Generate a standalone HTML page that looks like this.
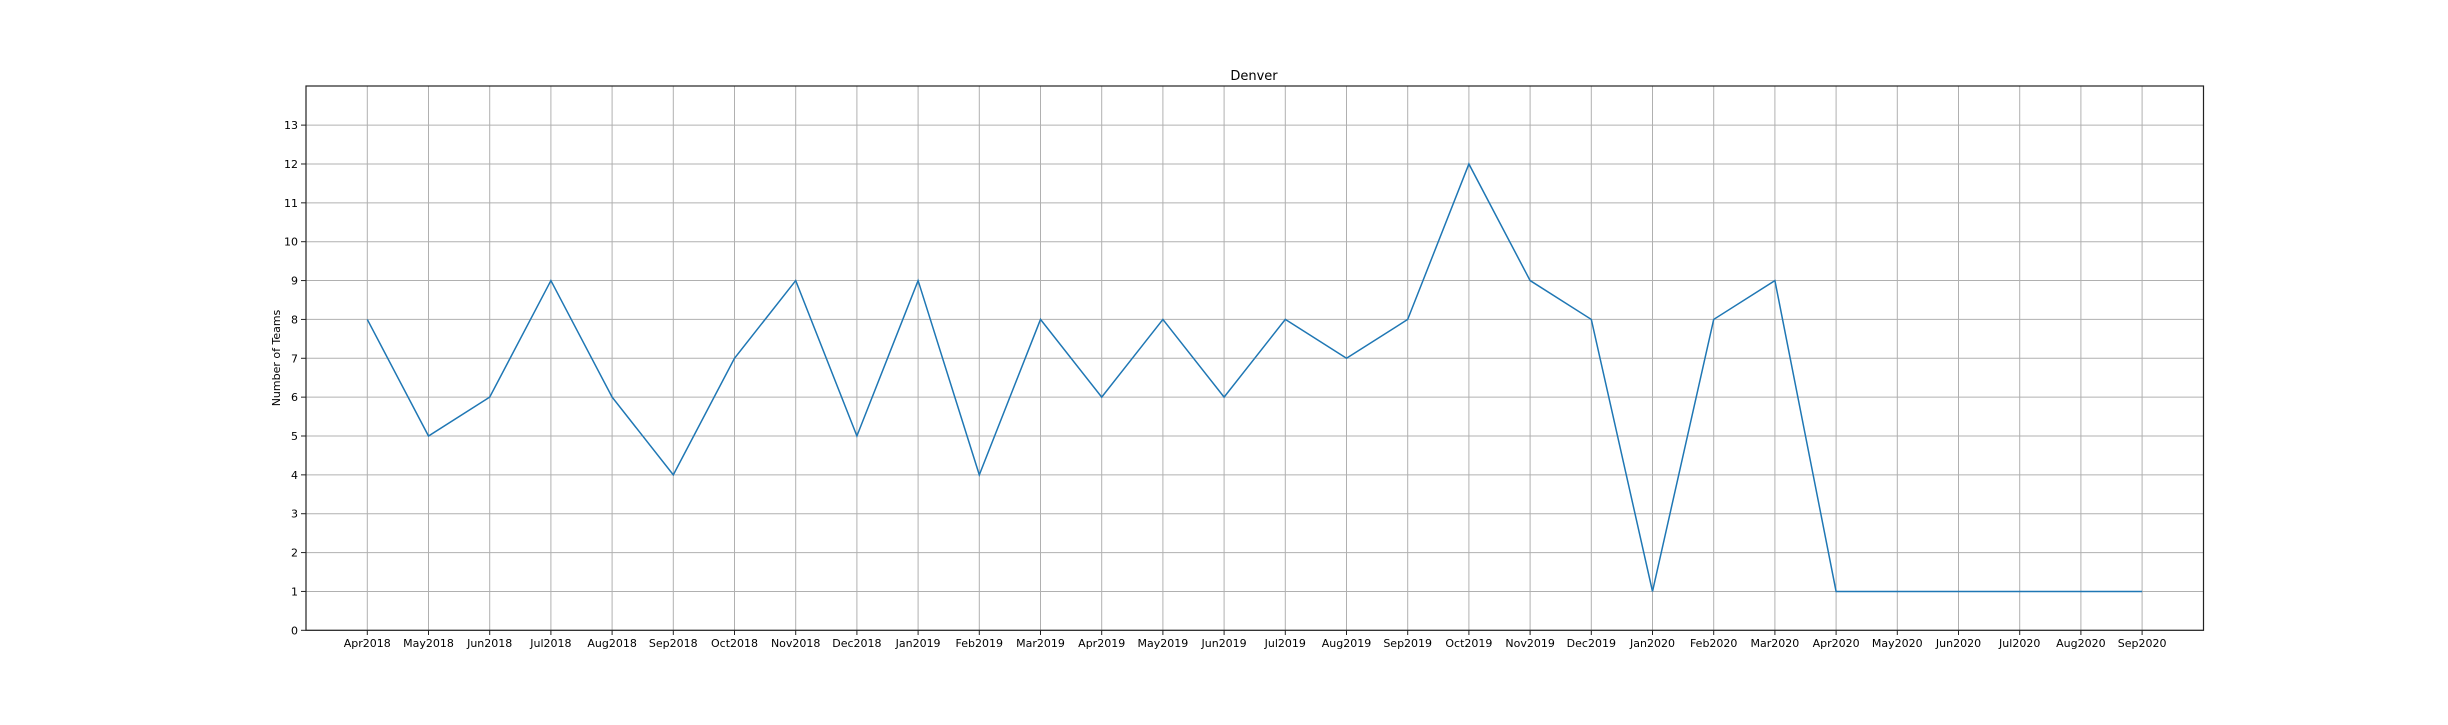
<!DOCTYPE html>
<html><head><meta charset="utf-8"><style>
body{margin:0;background:#fff;}
svg text{font-family:"DejaVu Sans","Liberation Sans",sans-serif;fill:#000;}
</style></head><body>
<svg width="2448" height="720" xmlns="http://www.w3.org/2000/svg">
<rect width="2448" height="720" fill="#fff"/>
<g id="grid"></g>
<g id="ticks"></g>
<polyline id="line" fill="none" stroke="#1f77b4" stroke-width="1.5"/>
<rect x="306" y="86" width="1897.5" height="544.3" fill="none" stroke="#222" stroke-width="1.2"/>
<text x="1254" y="80" font-size="13" text-anchor="middle">Denver</text>
<text transform="translate(280,358) rotate(-90)" font-size="11" text-anchor="middle">Number of Teams</text>
</svg>
<script>
const categories=["Apr2018","May2018","Jun2018","Jul2018","Aug2018","Sep2018","Oct2018","Nov2018","Dec2018","Jan2019","Feb2019","Mar2019","Apr2019","May2019","Jun2019","Jul2019","Aug2019","Sep2019","Oct2019","Nov2019","Dec2019","Jan2020","Feb2020","Mar2020","Apr2020","May2020","Jun2020","Jul2020","Aug2020","Sep2020"];
const teams=[8,5,6,9,6,4,7,9,5,9,4,8,6,8,6,8,7,8,12,9,8,1,8,9,1,1,1,1,1,1];
const yTicks=[0,1,2,3,4,5,6,7,8,9,10,11,12,13];
const NS="http://www.w3.org/2000/svg";
const x=i=>367.3+i*61.2;
const y=v=>630.3-v*38.86;
const grid=document.getElementById('grid'),ticks=document.getElementById('ticks');
function mk(tag,attrs,parent){const e=document.createElementNS(NS,tag);for(const k in attrs)e.setAttribute(k,attrs[k]);parent.appendChild(e);return e;}
yTicks.forEach(v=>{
 const g=mk('line',{x1:306,x2:2203.5,y1:y(v),y2:y(v),stroke:'#b0b0b0','stroke-width':1},grid);
 
 
 mk('line',{x1:301,x2:306,y1:y(v),y2:y(v),stroke:'#222'},ticks);
 const t=mk('text',{x:298,y:y(v)+4,'font-size':11,'text-anchor':'end'},ticks);
 
 
 t.textContent=v;
});
categories.forEach((c,i)=>{
 const g=mk('line',{x1:x(i),x2:x(i),y1:86,y2:630.3,stroke:'#b0b0b0','stroke-width':1},grid);
 
 
 mk('line',{x1:x(i),x2:x(i),y1:630.3,y2:635,stroke:'#222'},ticks);
 const t=mk('text',{x:x(i),y:647,'font-size':11,'text-anchor':'middle'},ticks);
 
 
 t.textContent=c;
});
document.getElementById('line').setAttribute('points',teams.map((v,i)=>x(i)+','+y(v)).join(' '));
</script>
</body></html>
